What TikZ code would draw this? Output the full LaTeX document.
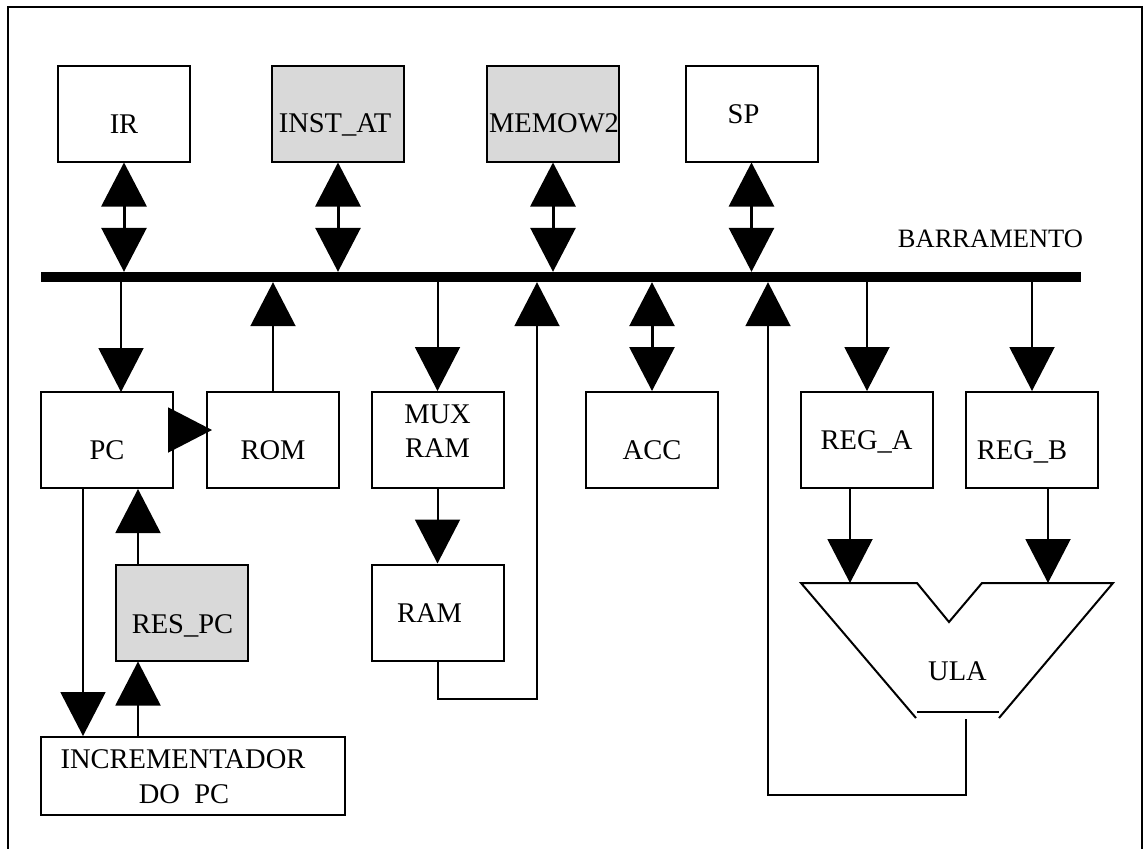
\documentclass[tikz,border=0pt]{standalone}
\usepackage{fontspec}
\setmainfont{Liberation Serif}
\usetikzlibrary{arrows.meta}
\definecolor{regfill}{RGB}{217,217,217}
\begin{document}
\begin{tikzpicture}[x=1pt,y=-1pt,
  blk/.style={draw,line width=2pt,minimum width=132pt,minimum height=96pt,inner sep=0pt},
  shaded/.style={blk,fill=regfill},
  lbl/.style={font=\fontsize{28.5}{34}\selectfont,anchor=base,inner sep=0pt},
  wire/.style={line width=2pt},
  onearr/.style={wire,-{Triangle[width=45pt,length=44pt]}},
  twoarr/.style={line width=3pt,{Triangle[width=45pt,length=44pt]}-{Triangle[width=45pt,length=44pt]}},
]
\useasboundingbox (0,0) rectangle (1144,849);
% outer frame
\draw[line width=1.5pt] (8,849) -- (8,7) -- (1142,7) -- (1142,849);

% data bus
\node[fill=black,minimum width=1040pt,minimum height=10pt,inner sep=0pt] (bus) at (561,277) {};
\node[lbl,font=\fontsize{26.5}{32}\selectfont] (busname) at (990.5,247) {BARRAMENTO};

% registers above the bus
\node[blk] (IR) at (124,113.5) {};
\node[shaded] (INST) at (338,113.5) {};
\node[shaded] (MEMO) at (553,113.5) {};
\node[blk] (SP) at (751.5,113.5) {};
\node[lbl] (IRt) at (124,133) {IR};
\node[lbl] (INSTt) at (335,132) {INST\_AT};
\node[lbl] (MEMOt) at (554,132) {MEMOW2};
\node[lbl] (SPt) at (743.5,123) {SP};

% blocks below the bus
\node[blk] (PC) at (107,440) {};
\node[blk] (ROM) at (273,440) {};
\node[blk] (MUX) at (437.5,440) {};
\node[blk] (ACC) at (652,440) {};
\node[blk] (REGA) at (867,440) {};
\node[blk] (REGB) at (1032,440) {};
\node[shaded] (RES) at (182,612.5) {};
\node[blk] (RAM) at (437.5,612.5) {};
\node[blk,minimum width=304pt,minimum height=78pt] (INC) at (193,776) {};

\node[lbl] (PCt) at (107,459) {PC};
\node[lbl] (ROMt) at (273,459) {ROM};
\node[lbl] (MUXt) at (437.5,423) {MUX};
\node[lbl] (MUXt2) at (437.5,457) {RAM};
\node[lbl] (ACCt) at (652,459) {ACC};
\node[lbl] (REGAt) at (866.5,449) {REG\_A};
\node[lbl] (REGBt) at (1022,459) {REG\_B};
\node[lbl] (RESt) at (182.5,633) {RES\_PC};
\node[lbl] (RAMt) at (429.5,622) {RAM};
\node[lbl] (INCt) at (183,768) {INCREMENTADOR};
\node[lbl] (INCt2) at (184,803) {DO\ \ PC};

% arithmetic unit outline
\draw[wire,line join=miter] (916,718) -- (801,583) -- (917,583) -- (949,622) -- (982,583) -- (1113,583) -- (999,718);
\draw[wire] (917,712) -- (999,712);
\node[lbl] (ULAt) at (957.5,680) {ULA};
\coordinate (ulaa) at (850,583);
\coordinate (ulab) at (1048,583);
\coordinate (ulaout) at (966,719);
\coordinate (ulaloop) at (768,795);

% helper points for offset connectors
\coordinate (pcin) at (121,392);
\coordinate (pcdown) at (83,0);
\coordinate (resx) at (138,0);
\coordinate (ramret) at (537,699);

% bidirectional links to the bus
\draw[twoarr] (IR.south) -- (IR.south |- bus.north);
\draw[twoarr] (INST.south) -- (INST.south |- bus.north);
\draw[twoarr] (MEMO.south) -- (MEMO.south |- bus.north);
\draw[twoarr] (SP.south) -- (SP.south |- bus.north);
\draw[twoarr] (ACC.north) -- (ACC.north |- bus.south);

% one-way links
\draw[onearr] (bus.south -| pcin) -- (pcin);
\draw[onearr] (ROM.north) -- (ROM.north |- bus.south);
\draw[onearr] (bus.south -| MUX.north) -- (MUX.north);
\draw[onearr] (MUX.south) -- (RAM.north);
\draw[onearr] (RAM.south) |- (ramret) -- (ramret |- bus.south);
\draw[onearr] (bus.south -| REGA.north) -- (REGA.north);
\draw[onearr] (bus.south -| REGB.north) -- (REGB.north);
\draw[onearr] (ulaa |- REGA.south) -- (ulaa);
\draw[onearr] (ulab |- REGB.south) -- (ulab);
\draw[onearr] (ulaout) |- (ulaloop) -- (ulaloop |- bus.south);
\draw[onearr] ([yshift=10pt]PC.east) -- ([xshift=6pt,yshift=10pt]ROM.west);
\draw[onearr] (PC.south -| pcdown) -- (INC.north -| pcdown);
\draw[onearr] (RES.north -| resx) -- (PC.south -| resx);
\draw[onearr] (INC.north -| resx) -- (RES.south -| resx);
\end{tikzpicture}
\end{document}
